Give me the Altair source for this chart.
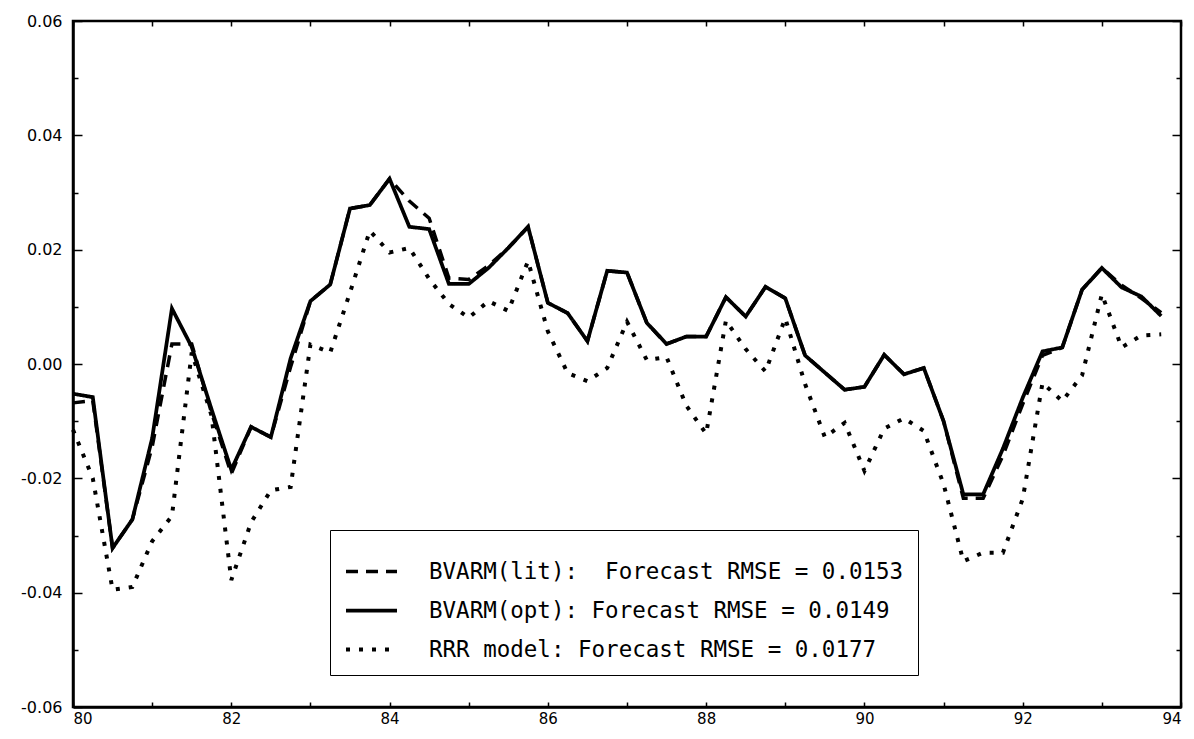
import altair as alt
import pandas as pd

# quarterly time index, 1980Q1 .. 1993Q4 (years written as two-digit labels)
years = [80.0, 80.25, 80.5, 80.75, 81.0, 81.25, 81.5, 81.75,
         82.0, 82.25, 82.5, 82.75, 83.0, 83.25, 83.5, 83.75,
         84.0, 84.25, 84.5, 84.75, 85.0, 85.25, 85.5, 85.75,
         86.0, 86.25, 86.5, 86.75, 87.0, 87.25, 87.5, 87.75,
         88.0, 88.25, 88.5, 88.75, 89.0, 89.25, 89.5, 89.75,
         90.0, 90.25, 90.5, 90.75, 91.0, 91.25, 91.5, 91.75,
         92.0, 92.25, 92.5, 92.75, 93.0, 93.25, 93.5, 93.75]

bvarm_lit = [-0.0068, -0.0064, -0.0322, -0.0272, -0.0145, 0.0035, 0.0035, -0.0085,
             -0.0192, -0.0110, -0.0128, -0.0005, 0.0110, 0.0139, 0.0272, 0.0278,
             0.0324, 0.0285, 0.0255, 0.0150, 0.0148, 0.0172, 0.0203, 0.0240,
             0.0107, 0.0089, 0.0040, 0.0163, 0.0160, 0.0072, 0.0035, 0.0048,
             0.0048, 0.0117, 0.0083, 0.0135, 0.0115, 0.0015, -0.0015, -0.0045,
             -0.0040, 0.0016, -0.0018, -0.0007, -0.0100, -0.0235, -0.0235, -0.0160,
             -0.0070, 0.0015, 0.0029, 0.0130, 0.0168, 0.0138, 0.0115, 0.0090]

bvarm_opt = [-0.0052, -0.0058, -0.0322, -0.0272, -0.0130, 0.0097, 0.0030, -0.0079,
             -0.0185, -0.0110, -0.0128, 0.0010, 0.0110, 0.0139, 0.0272, 0.0278,
             0.0324, 0.0240, 0.0236, 0.0140, 0.0140, 0.0168, 0.0203, 0.0240,
             0.0107, 0.0089, 0.0040, 0.0163, 0.0160, 0.0072, 0.0035, 0.0048,
             0.0048, 0.0117, 0.0083, 0.0135, 0.0115, 0.0015, -0.0015, -0.0045,
             -0.0040, 0.0016, -0.0018, -0.0007, -0.0100, -0.0228, -0.0228, -0.0148,
             -0.0059, 0.0022, 0.0029, 0.0130, 0.0168, 0.0134, 0.0118, 0.0084]

rrr_model = [-0.0115, -0.0200, -0.0395, -0.0390, -0.0310, -0.0266, 0.0020, -0.0090,
             -0.0378, -0.0277, -0.0221, -0.0215, 0.0034, 0.0020, 0.0125, 0.0233,
             0.0195, 0.0203, 0.0149, 0.0105, 0.0081, 0.0110, 0.0093, 0.0180,
             0.0057, -0.0016, -0.0030, -0.0007, 0.0074, 0.0007, 0.0012, -0.0073,
             -0.0122, 0.0076, 0.0026, -0.0013, 0.0080, -0.0035, -0.0128, -0.0103,
             -0.0187, -0.0113, -0.0095, -0.0117, -0.0210, -0.0345, -0.0330, -0.0330,
             -0.0236, -0.0033, -0.0065, -0.0020, 0.0122, 0.0029, 0.0050, 0.0052]

series_names = ["BVARM(lit):\u00a0 Forecast RMSE = 0.0153",
                "BVARM(opt): Forecast RMSE = 0.0149",
                "RRR model: Forecast RMSE = 0.0177"]

x_ticks = [80, 82, 84, 86, 88, 90, 92, 94]
x_minor = [80, 81, 82, 83, 84, 85, 86, 87, 88, 89, 90, 91, 92, 93, 94]
y_ticks = [-0.06, -0.04, -0.02, 0.0, 0.02, 0.04, 0.06]
y_minor = [-0.06, -0.05, -0.04, -0.03, -0.02, -0.01, 0.0, 0.01, 0.02, 0.03, 0.04, 0.05, 0.06]

frames = []
for name, vals in zip(series_names, [bvarm_lit, bvarm_opt, rrr_model]):
    frames.append(pd.DataFrame({"year": years, "value": vals, "series": name}))
df = pd.concat(frames, ignore_index=True)

W, H = 1108, 686
FONT = "DejaVu Sans"
LEGEND_FONT = "DejaVu Sans Mono"

xs = alt.Scale(domain=[80, 94], nice=False, zero=False)
ys = alt.Scale(domain=[-0.06, 0.06], nice=False, zero=False)

legend = alt.Legend(
    title=None, orient="none", legendX=257, legendY=509,
    symbolType="stroke", symbolSize=2600, symbolStrokeColor="black",
    labelFont=LEGEND_FONT, labelFontSize=22.5, labelColor="black", labelLimit=0,
    labelOffset=30, padding=14, rowPadding=0,
    fillColor="white", strokeColor="black",
)
dash = alt.StrokeDash("series:N", scale=alt.Scale(domain=series_names, range=[[12, 8], [1, 0], [4, 9]]), legend=legend)
swidth = alt.StrokeWidth("series:N", scale=alt.Scale(domain=series_names, range=[3.5, 4, 2.5]), legend=legend)

tick_cond = {"condition": {"test": "round(datum.value*100) % 2 === 0", "value": 9}, "value": 5}

ax_x_main = alt.Axis(values=x_ticks, format="d", tickSize=0, labelFont=FONT, labelFontSize=15,
                     labelColor="black", labelPadding=4, domainColor="black", domainWidth=2.5,
                     grid=False, title=None)
ax_y_main = alt.Axis(values=y_ticks, labelExpr="replace(format(datum.value, '.2f'), '\u2212', '-')",
                     tickSize=0, labelFont=FONT, labelFontSize=16, labelColor="black", labelPadding=11,
                     domainColor="black", domainWidth=2.5, grid=False, title=None)
ax_x_in_bottom = alt.Axis(orient="top", offset=-H, values=x_minor, tickSize=5, tickWidth=1.5,
                          tickColor="black", labels=False, domain=False, grid=False, title=None)
ax_x_in_top = alt.Axis(orient="bottom", offset=-H, values=x_minor, tickSize=5, tickWidth=1.5,
                       tickColor="black", labels=False, domain=False, grid=False, title=None)
ax_y_in_left = alt.Axis(orient="right", offset=-W, values=y_minor, tickSize=tick_cond, tickWidth=1.5,
                        tickColor="black", labels=False, domain=False, grid=False, title=None)
ax_y_in_right = alt.Axis(orient="left", offset=-W, values=y_minor, tickSize=tick_cond, tickWidth=1.5,
                         tickColor="black", labels=False, domain=False, grid=False, title=None)

base = alt.Chart(df).mark_line(color="black", strokeJoin="miter", strokeCap="butt")


def layer(name, ax_x, ax_y):
    return base.transform_filter(alt.FieldEqualPredicate(field="series", equal=name)).encode(
        x=alt.X("year:Q", scale=xs, axis=ax_x),
        y=alt.Y("value:Q", scale=ys, axis=ax_y),
        strokeDash=dash,
        strokeWidth=swidth,
    )


l_rrr = layer(series_names[2], ax_x_main, ax_y_main)
l_lit = layer(series_names[0], ax_x_in_bottom, ax_y_in_left)
l_opt = layer(series_names[1], ax_x_in_top, ax_y_in_right)

chart = alt.layer(l_rrr, l_lit, l_opt).resolve_axis(x="independent", y="independent").properties(
    width=W, height=H,
    autosize=alt.AutoSizeParams(type="none"),
    padding={"left": 73, "top": 21, "right": 13, "bottom": 32},
    background="white",
).configure_view(stroke="black", strokeWidth=2.5)

chart.save("out.html", embed_options={"renderer": "svg", "actions": False})
